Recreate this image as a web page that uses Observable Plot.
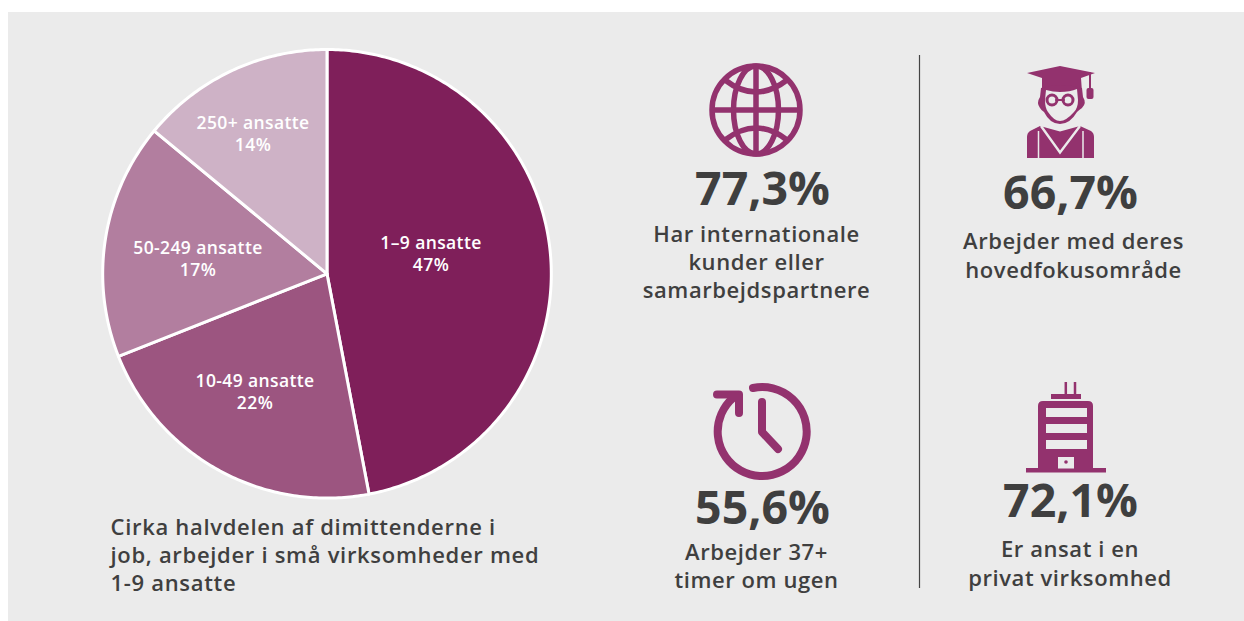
<!DOCTYPE html>
<html><head><meta charset="utf-8">
<script src="https://cdn.jsdelivr.net/npm/d3@7"></script>
<script src="https://cdn.jsdelivr.net/npm/@observablehq/plot@0.6"></script>
<style>
html,body{margin:0;padding:0;background:#fff}
svg{display:block}
.sp text{letter-spacing:.58px}
.ss text{letter-spacing:.69px}
.sb text{letter-spacing:.38px}
</style></head><body>
<script>
const categories = ["1–9 ansatte","10-49 ansatte","50-249 ansatte","250+ ansatte"];
const shares = [47,22,17,14];
const sliceColors = ["#7f1f5a","#9c5580","#b27e9f","#ceb2c6"];
const statValues = ["77,3%","66,7%","55,6%","72,1%"];
const statCaptions = ["Har internationale\nkunder eller\nsamarbejdspartnere","Arbejder med deres\nhovedfokusområde","Arbejder 37+\ntimer om ugen","Er ansat i en\nprivat virksomhed"];
const summary = "Cirka halvdelen af dimittenderne i\njob, arbejder i små virksomheder med\n1-9 ansatte";

const W=1244,H=621,cx=326.5,cy=273.3,R=224.3;
const ink="#3f3f3f", icon="#93326e", panel="#ebebeb";

const arcs=d3.pie().sort(null)(shares);
const piePts=arcs.flatMap((a,i)=>{
  const n=Math.ceil((a.endAngle-a.startAngle)*80), pts=[{x:cx,y:cy,name:categories[i]}];
  for(let k=0;k<=n;k++){const t=a.startAngle+(a.endAngle-a.startAngle)*k/n;
    pts.push({x:cx+R*Math.sin(t),y:cy-R*Math.cos(t),name:categories[i]});}
  pts.push({x:cx,y:cy,name:categories[i]});
  return pts;
});
const labelPos=[[430.5,252.5],[254.5,390.5],[197.5,257.5],[252.5,132.5]];
const pieLabels=categories.map((c,i)=>({t:`${c}\n${shares[i]}%`,x:labelPos[i][0],y:labelPos[i][1]}));
const statPos=[[762,190,756,260.5],[1070,194,1073,254],[762,509,756,564.5],[1070,502,1069.5,562]];
const stats=statValues.map((v,i)=>({v,c:statCaptions[i],vx:statPos[i][0],vy:statPos[i][1],cx:statPos[i][2],cy:statPos[i][3]}));

function icons(){
  const g=d3.create("svg:g");
  const S=(d,w,c=icon)=>g.append("path").attr("d",d).attr("fill","none").attr("stroke",c).attr("stroke-width",w).attr("stroke-linecap","round").attr("stroke-linejoin","round");
  const Fl=(d,c=icon)=>g.append("path").attr("d",d).attr("fill",c);
  // globe
  g.append("circle").attr("cx",756).attr("cy",110).attr("r",44).attr("fill","none").attr("stroke",icon).attr("stroke-width",5.5);
  g.append("ellipse").attr("cx",756).attr("cy",110).attr("rx",22.5).attr("ry",44).attr("fill","none").attr("stroke",icon).attr("stroke-width",5.5);
  S("M756 66V154M712 110H800",5.5).attr("stroke-linecap","butt");
  S("M725 80Q756 104 787 80M725 140Q756 116 787 140",5.5).attr("stroke-linecap","butt");
  // graduate
  Fl("M1027 73L1060 66L1095 73L1081 78L1082 92L1042 92L1042 78Z");
  S("M1090 73V90",2);
  g.append("rect").attr("x",1086.5).attr("y",88).attr("width",7).attr("height",11).attr("rx",2).attr("fill",icon);
  Fl("M1041 88Q1060 82 1082 88L1083 97Q1087 103 1082 108Q1079 110 1077 112Q1070 124 1060 124Q1050 124 1044 112Q1041 110 1040 108Q1036 103 1040 97Z");
  Fl("M1046 90Q1053 92 1060 92Q1070 92 1077 89L1078 100Q1078 108 1074 112Q1066 121 1060 121Q1054 121 1048 112Q1045 108 1045 100Z",panel);
  g.append("circle").attr("cx",1052).attr("cy",100).attr("r",5).attr("fill",panel).attr("stroke",icon).attr("stroke-width",3);
  g.append("circle").attr("cx",1068).attr("cy",100).attr("r",5).attr("fill",panel).attr("stroke",icon).attr("stroke-width",3);
  S("M1056 100H1064",2);
  Fl("M1027 158V137Q1027 133 1030 131L1040 126L1060 131.5L1080 126L1091 131Q1094 133 1094 137V158Z");
  S("M1041 126L1060 152.5L1080 126",2.4,panel).attr("stroke-linecap","butt").attr("stroke-linejoin","miter");
  S("M1038.5 131V158M1083 131V158",1.5,panel).attr("stroke-linecap","butt");
  // clock
  S("M753 388A44.5 44.5 0 1 1 733.3 397.7",8);
  S("M717 394.5H739V413",8);
  S("M762 402V432L778 449",8);
  // building
  S("M1065.8 382V394M1075 382V394",2.5).attr("stroke-linecap","butt");
  Fl("M1051 394H1081V399H1051Z");
  Fl("M1038 468V406Q1038 401 1043 401H1088Q1093 401 1093 406V468Z");
  Fl("M1026 468H1106V472.5H1026Z");
  for(const y of [408,424,440]) g.append("rect").attr("x",1046).attr("y",y).attr("width",41).attr("height",9).attr("fill",panel);
  g.append("rect").attr("x",1058).attr("y",457).attr("width",16).attr("height",11.5).attr("fill",panel);
  g.append("circle").attr("cx",1066).attr("cy",462).attr("r",1.8).attr("fill",icon);
  return g.node();
}

const font="'Open Sans', sans-serif";
const chart=Plot.plot({
  width:W,height:H,margin:0,
  x:{domain:[0,W],range:[0,W],axis:null},
  y:{domain:[0,H],range:[0,H],axis:null},
  color:{domain:categories,range:sliceColors},
  style:{background:"#fff",fontFamily:font},
  marks:[
    Plot.rect([0],{x1:()=>8,x2:()=>W,y1:()=>12,y2:()=>H,fill:panel}),
    Plot.line(piePts,{x:"x",y:"y",z:"name",fill:"name",stroke:"#fff",strokeWidth:3}),
    Plot.text(pieLabels,{x:"x",y:"y",text:"t",fill:"#fff",fontSize:17.5,fontWeight:600,lineHeight:1.27,className:"sb"}),
    Plot.ruleX([919],{y1:55,y2:588,stroke:"#444",strokeWidth:1.2}),
    Plot.text(stats,{x:"vx",y:"vy",text:"v",fill:ink,fontSize:46.5,fontWeight:700,textAnchor:"middle"}),
    Plot.text(stats,{x:"cx",y:"cy",text:"c",fill:ink,fontSize:22,fontWeight:600,lineHeight:1.28,className:"sp"}),
    Plot.text([summary],{x:()=>110,y:()=>553.5,text:d=>d,fill:ink,fontSize:22,fontWeight:600,lineHeight:1.29,textAnchor:"start",className:"ss"}),
    icons
  ]
});
document.body.append(chart);
</script></body></html>
